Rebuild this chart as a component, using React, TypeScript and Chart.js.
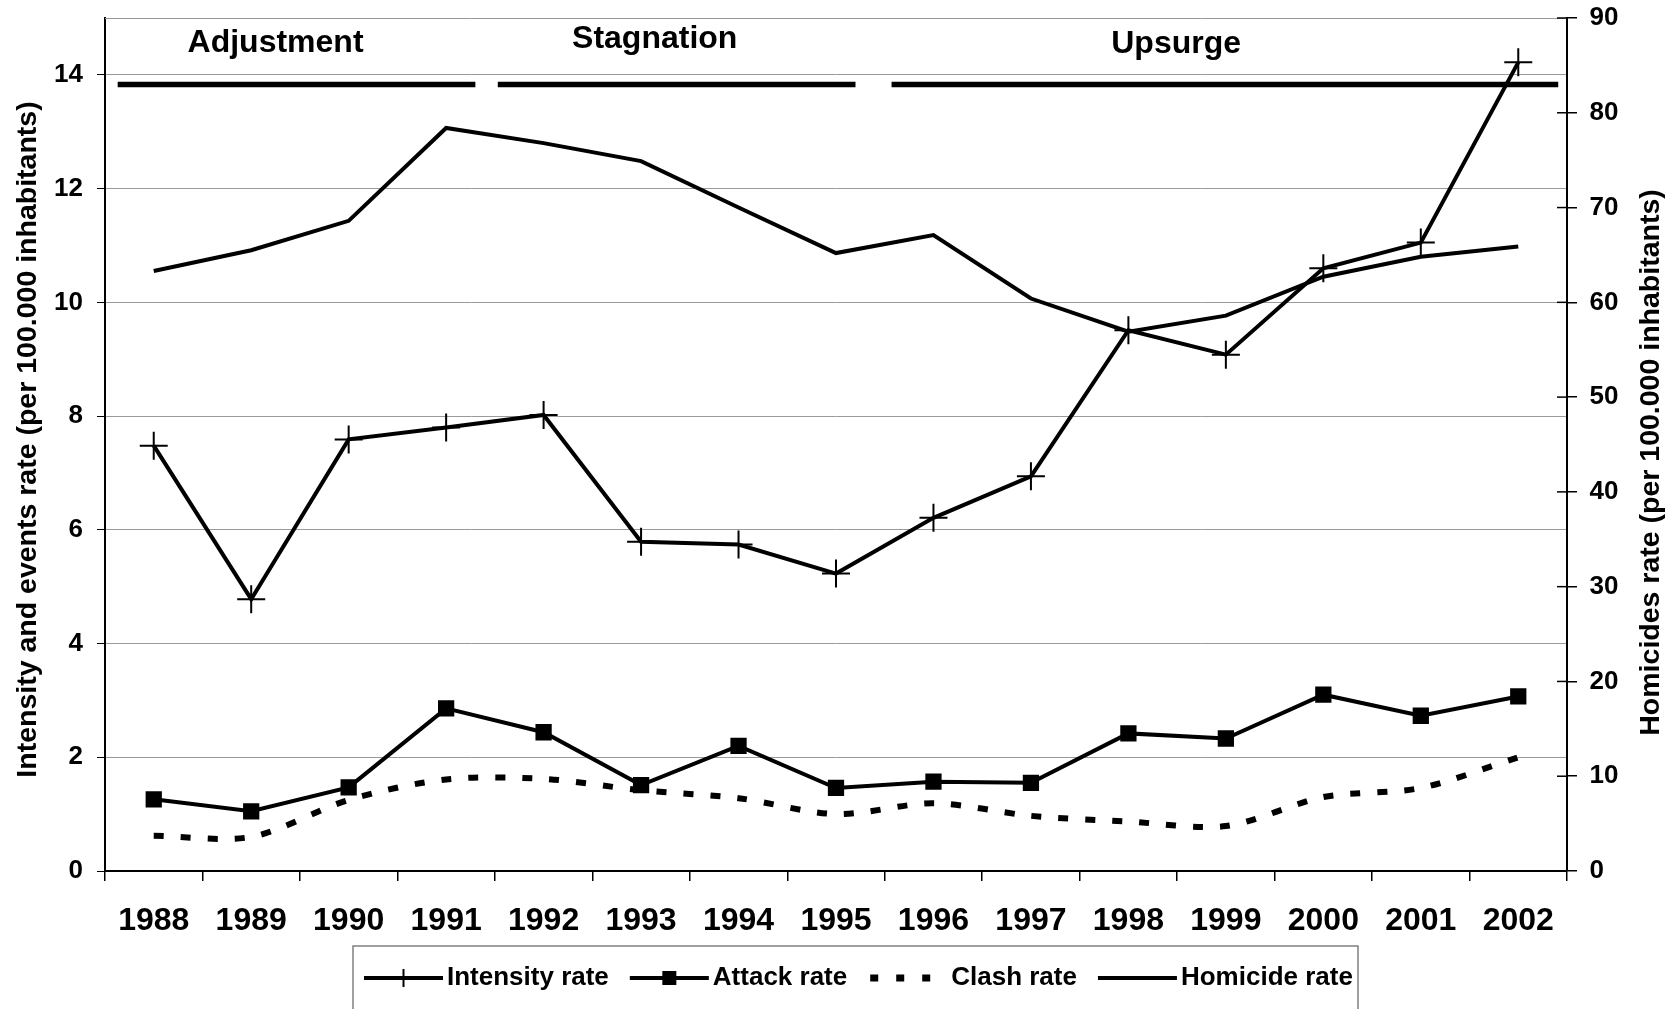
import React, { useEffect, useRef } from 'react';
import { Chart, registerables } from 'chart.js';

Chart.register(...registerables);

const FONT = '"Liberation Sans", Arial, Helvetica, sans-serif';

const years = ['1988', '1989', '1990', '1991', '1992', '1993', '1994', '1995', '1996', '1997', '1998', '1999', '2000', '2001', '2002'];
const intensityRate = [7.48, 4.78, 7.59, 7.8, 8.02, 5.79, 5.74, 5.23, 6.21, 6.94, 9.51, 9.08, 10.6, 11.05, 14.22];
const attackRate = [1.26, 1.05, 1.47, 2.86, 2.44, 1.51, 2.2, 1.46, 1.57, 1.55, 2.42, 2.33, 3.1, 2.73, 3.07];
const clashRate = [0.62, 0.6, 1.25, 1.61, 1.62, 1.42, 1.28, 1.0, 1.19, 0.97, 0.87, 0.79, 1.3, 1.46, 2.0];
const homicideRate = [63.3, 65.5, 68.6, 78.4, 76.8, 74.9, 70.0, 65.2, 67.1, 60.4, 56.9, 58.6, 62.7, 64.8, 65.9];

const seriesLabels = ['Intensity rate', 'Attack rate', 'Clash rate', 'Homicide rate'];

const periodNames = ['Adjustment', 'Stagnation', 'Upsurge'];
const periodStart = [-0.37, 3.53, 7.57];
const periodEnd = [3.3, 7.2, 14.41];
const periodBarLevel = 13.83;
const periodLabelPos = [1.25, 5.14, 10.49];
const periodLabelLevel = [14.41, 14.47, 14.38];

const leftTitle = 'Intensity and events rate (per 100.000 inhabitants)';
const rightTitle = 'Homicides rate (per 100.000 inhabitants)';

const decorPlugin = {
  id: 'decor',
  afterDraw(chart: any) {
    const { ctx, chartArea: a, scales } = chart;
    const xp = scales.xp;
    const y = scales.y;
    const y1 = scales.y1;
    ctx.save();

    // top border of plot area
    ctx.strokeStyle = '#999999';
    ctx.lineWidth = 1;
    ctx.beginPath();
    ctx.moveTo(a.left, Math.round(a.top) + 0.5);
    ctx.lineTo(a.right, Math.round(a.top) + 0.5);
    ctx.stroke();

    // inner part of right-axis ticks
    ctx.strokeStyle = '#000';
    ctx.lineWidth = 1.5;
    y1.ticks.forEach((t: any) => {
      const py = y1.getPixelForValue(t.value);
      ctx.beginPath();
      ctx.moveTo(a.right - 10, py);
      ctx.lineTo(a.right, py);
      ctx.stroke();
    });

    // period labels
    ctx.fillStyle = '#000';
    ctx.font = `bold 32px ${FONT}`;
    ctx.textAlign = 'center';
    ctx.textBaseline = 'alphabetic';
    periodNames.forEach((n, i) => {
      ctx.fillText(n, xp.getPixelForValue(periodLabelPos[i]), y.getPixelForValue(periodLabelLevel[i]));
    });

    // axis titles (both read bottom to top)
    ctx.font = `bold 28.5px ${FONT}`;
    ctx.textBaseline = 'middle';
    ctx.save();
    ctx.translate(28.5, (a.top + a.bottom) / 2 - 5);
    ctx.rotate(-Math.PI / 2);
    ctx.fillText(leftTitle, 0, 0);
    ctx.restore();
    ctx.save();
    ctx.translate(1651, (a.top + a.bottom) / 2 + 18);
    ctx.rotate(-Math.PI / 2);
    ctx.fillText(rightTitle, 0, 0);
    ctx.restore();

    // legend
    const ly = 978;
    ctx.strokeStyle = '#808080';
    ctx.lineWidth = 1.5;
    ctx.strokeRect(353, 946, 1005, 90);
    ctx.font = `bold 26px ${FONT}`;
    ctx.textAlign = 'left';
    ctx.textBaseline = 'middle';
    let x = 364;
    const sample = 79;
    seriesLabels.forEach((lab, i) => {
      ctx.strokeStyle = '#000';
      ctx.fillStyle = '#000';
      if (i === 2) {
        ctx.lineWidth = 7;
        ctx.setLineDash([8, 18]);
        ctx.beginPath();
        ctx.moveTo(x + 2, ly);
        ctx.lineTo(x + 64, ly);
        ctx.stroke();
        ctx.setLineDash([]);
      } else {
        ctx.lineWidth = 4;
        ctx.beginPath();
        ctx.moveTo(x, ly);
        ctx.lineTo(x + sample, ly);
        ctx.stroke();
      }
      const cx = x + sample / 2;
      if (i === 0) {
        ctx.lineWidth = 2;
        ctx.beginPath();
        ctx.moveTo(cx, ly - 9);
        ctx.lineTo(cx, ly + 9);
        ctx.stroke();
      } else if (i === 1) {
        ctx.fillRect(cx - 7, ly - 7, 14, 14);
      }
      const tx = x + sample + 4;
      ctx.fillText(lab, tx, ly);
      x = tx + ctx.measureText(lab).width + 21;
    });

    ctx.restore();
  },
};

export default function App() {
  const ref = useRef<HTMLCanvasElement | null>(null);

  useEffect(() => {
    document.body.style.margin = '0';
    const canvas = ref.current;
    if (!canvas) return;

    const periodDatasets = periodNames.map((n, i) => ({
      label: n,
      data: [
        { x: periodStart[i], y: periodBarLevel },
        { x: periodEnd[i], y: periodBarLevel },
      ],
      xAxisID: 'xp',
      yAxisID: 'y',
      borderColor: '#000',
      borderWidth: 5.5,
      pointRadius: 0,
      fill: false,
      borderCapStyle: 'butt',
    }));

    const chart = new Chart(canvas, {
      type: 'line',
      data: {
        labels: years,
        datasets: [
          {
            label: seriesLabels[0],
            data: intensityRate,
            xAxisID: 'x',
            yAxisID: 'y',
            borderColor: '#000',
            borderWidth: 4,
            pointStyle: 'cross',
            pointRadius: 14,
            pointBorderWidth: 2,
            pointBorderColor: '#000',
            pointBackgroundColor: '#000',
            fill: false,
            tension: 0,
          },
          {
            label: seriesLabels[1],
            data: attackRate,
            xAxisID: 'x',
            yAxisID: 'y',
            borderColor: '#000',
            borderWidth: 4,
            pointStyle: 'rect',
            pointRadius: 11.5,
            pointBorderWidth: 0,
            pointBackgroundColor: '#000',
            fill: false,
            tension: 0,
          },
          {
            label: seriesLabels[2],
            data: clashRate,
            xAxisID: 'x',
            yAxisID: 'y',
            borderColor: '#000',
            borderWidth: 6,
            borderDash: [10, 17],
            borderCapStyle: 'butt',
            pointRadius: 0,
            fill: false,
            tension: 0.3,
          },
          {
            label: seriesLabels[3],
            data: homicideRate,
            xAxisID: 'x',
            yAxisID: 'y1',
            borderColor: '#000',
            borderWidth: 4,
            pointRadius: 0,
            fill: false,
            tension: 0,
          },
          ...periodDatasets,
        ] as any,
      },
      options: {
        responsive: false,
        animation: false,
        events: [],
        devicePixelRatio: 1,
        layout: { padding: { top: 18, left: 0, right: 0, bottom: 0 } },
        plugins: {
          legend: { display: false },
          tooltip: { enabled: false },
          title: { display: false },
        },
        scales: {
          x: {
            type: 'category',
            position: 'bottom',
            offset: true,
            grid: {
              offset: true,
              drawOnChartArea: false,
              drawTicks: true,
              tickLength: 10,
              tickColor: '#000',
              lineWidth: 1.5,
            },
            border: { color: '#000', width: 2 },
            ticks: {
              color: '#000',
              font: { family: FONT, size: 32, weight: 'bold' },
              padding: 21,
              maxRotation: 0,
              autoSkip: false,
            },
            afterFit: (s: any) => {
              s.height = 138;
              s.paddingLeft = 0;
              s.paddingRight = 0;
            },
          },
          xp: {
            type: 'linear',
            display: false,
            min: -0.5,
            max: 14.5,
            offset: false,
          },
          y: {
            type: 'linear',
            position: 'left',
            min: 0,
            max: 15,
            grid: {
              color: '#9a9a9a',
              lineWidth: 1,
              tickLength: 8,
              tickColor: '#000',
            },
            border: { color: '#000', width: 2 },
            ticks: {
              stepSize: 2,
              includeBounds: false,
              color: '#000',
              font: { family: FONT, size: 26, weight: 'bold' },
              padding: 14,
            },
            afterFit: (s: any) => {
              s.width = 105;
              s.paddingTop = 0;
              s.paddingBottom = 0;
            },
          },
          y1: {
            type: 'linear',
            position: 'right',
            min: 0,
            max: 90,
            grid: {
              drawOnChartArea: false,
              tickLength: 10,
              tickColor: '#000',
              lineWidth: 1.5,
            },
            border: { color: '#000', width: 2 },
            ticks: {
              stepSize: 10,
              color: '#000',
              font: { family: FONT, size: 26, weight: 'bold' },
              padding: 12.5,
            },
            afterFit: (s: any) => {
              s.width = 106;
              s.paddingTop = 0;
              s.paddingBottom = 0;
            },
          },
        },
      } as any,
      plugins: [decorPlugin],
    });

    return () => {
      chart.destroy();
    };
  }, []);

  return (
    <div style={{ width: 1673, height: 1009, background: '#fff' }}>
      <canvas ref={ref} width={1673} height={1009} style={{ display: 'block', width: 1673, height: 1009 }} />
    </div>
  );
}
